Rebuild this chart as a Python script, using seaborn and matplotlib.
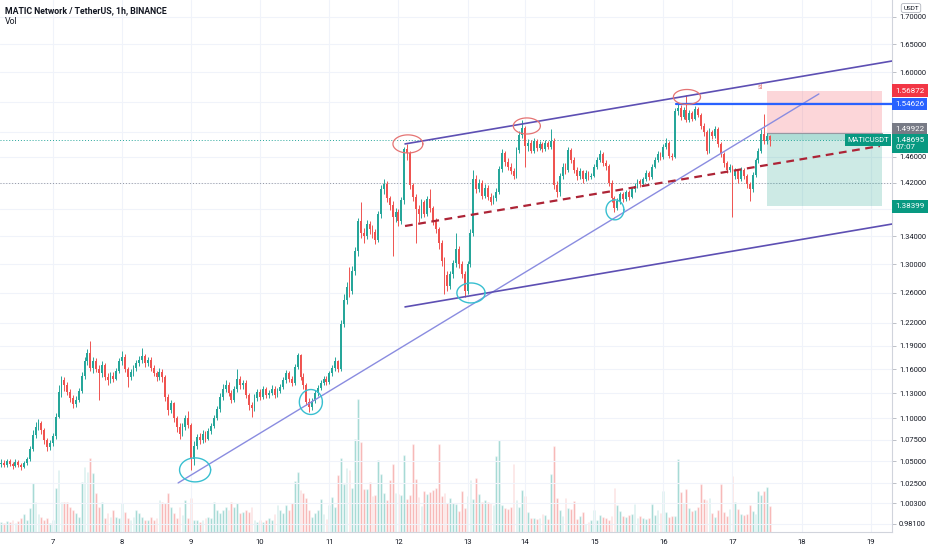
import numpy as np
import pandas as pd
import matplotlib
matplotlib.use("Agg")
import matplotlib.pyplot as plt
import matplotlib.transforms as mtransforms
from matplotlib.ticker import FixedLocator, FuncFormatter, NullLocator
import seaborn as sns

# MATICUSDT 1h candles (Binance)
first_open = 1.047
closes = [
    1.048, 1.046, 1.050, 1.047, 1.045, 1.049, 1.046, 1.044, 1.048, 1.052,
    1.064, 1.080, 1.090, 1.094, 1.086, 1.074, 1.066, 1.071, 1.079, 1.102,
    1.132, 1.146, 1.140, 1.132, 1.125, 1.117, 1.122, 1.133, 1.152, 1.170,
    1.181, 1.162, 1.171, 1.160, 1.155, 1.165, 1.150, 1.146, 1.152, 1.148,
    1.158, 1.170, 1.176, 1.160, 1.150, 1.156, 1.162, 1.168, 1.172, 1.177,
    1.168, 1.172, 1.162, 1.155, 1.150, 1.157, 1.150, 1.126, 1.110, 1.118,
    1.100, 1.090, 1.082, 1.090, 1.100, 1.092, 1.053, 1.068, 1.078, 1.074,
    1.082, 1.076, 1.085, 1.091, 1.100, 1.111, 1.126, 1.136, 1.141, 1.131,
    1.122, 1.135, 1.148, 1.140, 1.143, 1.128, 1.116, 1.112, 1.125, 1.132,
    1.126, 1.135, 1.128, 1.131, 1.136, 1.128, 1.133, 1.138, 1.146, 1.155,
    1.148, 1.143, 1.163, 1.178, 1.150, 1.140, 1.120, 1.113, 1.121, 1.130,
    1.137, 1.143, 1.148, 1.144, 1.155, 1.162, 1.170, 1.160, 1.218, 1.250,
    1.268, 1.262, 1.290, 1.318, 1.362, 1.345, 1.340, 1.358, 1.350, 1.346,
    1.335, 1.372, 1.410, 1.418, 1.396, 1.386, 1.368, 1.376, 1.362, 1.393,
    1.472, 1.466, 1.416, 1.398, 1.380, 1.372, 1.390, 1.373, 1.395, 1.381,
    1.362, 1.350, 1.330, 1.305, 1.285, 1.270, 1.286, 1.301, 1.322, 1.300,
    1.286, 1.263, 1.300, 1.345, 1.425, 1.410, 1.420, 1.400, 1.412, 1.398,
    1.391, 1.396, 1.406, 1.441, 1.466, 1.452, 1.445, 1.438, 1.430, 1.471,
    1.496, 1.506, 1.478, 1.483, 1.470, 1.486, 1.475, 1.481, 1.472, 1.483,
    1.476, 1.486, 1.416, 1.405, 1.430, 1.445, 1.440, 1.471, 1.455, 1.440,
    1.430, 1.438, 1.425, 1.435, 1.428, 1.431, 1.445, 1.456, 1.465, 1.450,
    1.446, 1.420, 1.396, 1.381, 1.392, 1.402, 1.395, 1.405, 1.398, 1.410,
    1.415, 1.422, 1.418, 1.425, 1.435, 1.428, 1.445, 1.456, 1.465, 1.460,
    1.476, 1.482, 1.462, 1.460, 1.535, 1.540, 1.525, 1.536, 1.520, 1.531,
    1.522, 1.538, 1.528, 1.510, 1.500, 1.470, 1.500, 1.494, 1.505, 1.480,
    1.465, 1.450, 1.440, 1.445, 1.430, 1.438, 1.425, 1.440, 1.430, 1.418,
    1.410, 1.432, 1.455, 1.470, 1.497, 1.485, 1.493, 1.48695,
]
highs = [
    1.052, 1.051, 1.053, 1.052, 1.049, 1.052, 1.051, 1.048, 1.050, 1.055,
    1.068, 1.086, 1.096, 1.099, 1.097, 1.088, 1.077, 1.075, 1.083, 1.106,
    1.140, 1.152, 1.150, 1.144, 1.136, 1.128, 1.127, 1.137, 1.157, 1.176,
    1.186, 1.196, 1.176, 1.174, 1.166, 1.170, 1.168, 1.155, 1.157, 1.156,
    1.162, 1.174, 1.183, 1.179, 1.163, 1.160, 1.166, 1.172, 1.177, 1.187,
    1.180, 1.176, 1.175, 1.165, 1.158, 1.161, 1.160, 1.153, 1.129, 1.122,
    1.120, 1.103, 1.094, 1.094, 1.104, 1.109, 1.095, 1.073, 1.082, 1.083,
    1.086, 1.085, 1.089, 1.095, 1.104, 1.115, 1.130, 1.142, 1.146, 1.144,
    1.134, 1.139, 1.160, 1.152, 1.147, 1.146, 1.131, 1.120, 1.129, 1.136,
    1.135, 1.139, 1.138, 1.134, 1.140, 1.139, 1.137, 1.142, 1.150, 1.159,
    1.158, 1.152, 1.167, 1.181, 1.180, 1.155, 1.143, 1.124, 1.125, 1.134,
    1.141, 1.147, 1.152, 1.151, 1.158, 1.166, 1.175, 1.172, 1.224, 1.258,
    1.275, 1.296, 1.297, 1.324, 1.366, 1.390, 1.352, 1.364, 1.362, 1.356,
    1.350, 1.377, 1.416, 1.426, 1.422, 1.400, 1.392, 1.382, 1.380, 1.398,
    1.476, 1.481, 1.470, 1.420, 1.402, 1.386, 1.395, 1.394, 1.400, 1.410,
    1.385, 1.366, 1.354, 1.334, 1.310, 1.290, 1.291, 1.306, 1.345, 1.326,
    1.305, 1.290, 1.305, 1.350, 1.440, 1.432, 1.426, 1.424, 1.418, 1.416,
    1.404, 1.401, 1.411, 1.446, 1.472, 1.470, 1.458, 1.450, 1.442, 1.476,
    1.501, 1.520, 1.510, 1.488, 1.487, 1.490, 1.489, 1.485, 1.484, 1.487,
    1.486, 1.505, 1.490, 1.422, 1.435, 1.450, 1.450, 1.476, 1.474, 1.460,
    1.445, 1.442, 1.440, 1.439, 1.438, 1.435, 1.449, 1.460, 1.471, 1.468,
    1.455, 1.449, 1.424, 1.400, 1.396, 1.406, 1.405, 1.409, 1.408, 1.414,
    1.420, 1.426, 1.425, 1.429, 1.439, 1.438, 1.449, 1.460, 1.470, 1.468,
    1.480, 1.490, 1.485, 1.466, 1.540, 1.546, 1.545, 1.541, 1.561, 1.537,
    1.535, 1.543, 1.541, 1.531, 1.514, 1.503, 1.506, 1.504, 1.510, 1.508,
    1.484, 1.468, 1.454, 1.449, 1.448, 1.442, 1.440, 1.444, 1.443, 1.433,
    1.421, 1.436, 1.459, 1.475, 1.505, 1.530, 1.498, 1.496,
]
lows = [
    1.044, 1.043, 1.044, 1.045, 1.041, 1.043, 1.044, 1.040, 1.042, 1.046,
    1.050, 1.062, 1.077, 1.086, 1.082, 1.070, 1.062, 1.063, 1.068, 1.076,
    1.100, 1.126, 1.133, 1.128, 1.120, 1.112, 1.113, 1.119, 1.130, 1.148,
    1.165, 1.158, 1.155, 1.156, 1.122, 1.150, 1.146, 1.140, 1.143, 1.144,
    1.146, 1.155, 1.166, 1.156, 1.138, 1.146, 1.152, 1.158, 1.164, 1.168,
    1.163, 1.164, 1.158, 1.151, 1.145, 1.146, 1.144, 1.121, 1.104, 1.106,
    1.096, 1.084, 1.076, 1.079, 1.086, 1.088, 1.040, 1.046, 1.064, 1.070,
    1.071, 1.072, 1.074, 1.082, 1.088, 1.098, 1.108, 1.122, 1.132, 1.127,
    1.118, 1.119, 1.132, 1.136, 1.135, 1.124, 1.110, 1.101, 1.109, 1.121,
    1.122, 1.123, 1.125, 1.124, 1.128, 1.125, 1.126, 1.130, 1.135, 1.143,
    1.144, 1.139, 1.140, 1.160, 1.146, 1.135, 1.116, 1.108, 1.110, 1.118,
    1.127, 1.134, 1.140, 1.140, 1.142, 1.152, 1.158, 1.156, 1.158, 1.214,
    1.245, 1.255, 1.258, 1.285, 1.312, 1.338, 1.330, 1.336, 1.343, 1.338,
    1.328, 1.332, 1.366, 1.402, 1.390, 1.378, 1.312, 1.360, 1.355, 1.358,
    1.388, 1.455, 1.410, 1.392, 1.330, 1.360, 1.366, 1.368, 1.370, 1.376,
    1.356, 1.344, 1.322, 1.298, 1.258, 1.262, 1.265, 1.280, 1.296, 1.295,
    1.280, 1.254, 1.258, 1.296, 1.340, 1.404, 1.405, 1.395, 1.396, 1.393,
    1.386, 1.388, 1.392, 1.402, 1.436, 1.446, 1.440, 1.433, 1.425, 1.427,
    1.466, 1.490, 1.445, 1.470, 1.466, 1.467, 1.470, 1.471, 1.468, 1.469,
    1.472, 1.472, 1.410, 1.398, 1.400, 1.426, 1.434, 1.436, 1.450, 1.435,
    1.424, 1.426, 1.420, 1.422, 1.424, 1.425, 1.428, 1.441, 1.452, 1.446,
    1.440, 1.415, 1.390, 1.375, 1.378, 1.388, 1.391, 1.392, 1.394, 1.396,
    1.406, 1.412, 1.414, 1.415, 1.422, 1.424, 1.426, 1.442, 1.452, 1.455,
    1.457, 1.472, 1.458, 1.455, 1.458, 1.528, 1.520, 1.521, 1.516, 1.517,
    1.518, 1.520, 1.524, 1.505, 1.494, 1.464, 1.466, 1.489, 1.490, 1.476,
    1.460, 1.445, 1.435, 1.436, 1.368, 1.425, 1.420, 1.422, 1.425, 1.412,
    1.392, 1.406, 1.428, 1.451, 1.466, 1.480, 1.480, 1.478,
]
# volume, millions MATIC
volumes = [
    5.0, 4.5, 5.5, 5.0, 6.0, 4.5, 5.5, 7.0, 9.0, 6.0,
    12.0, 24.5, 15.0, 9.0, 7.5, 6.0, 7.0, 4.5, 6.0, 22.0,
    31.0, 15.0, 15.0, 15.0, 12.5, 11.0, 9.5, 7.5, 25.0, 32.5,
    30.0, 37.0, 29.5, 19.5, 12.5, 15.0, 7.0, 9.5, 7.5, 11.0,
    7.5, 7.0, 14.5, 10.0, 7.0, 6.0, 7.5, 11.0, 9.5, 7.5,
    6.0, 6.0, 7.5, 6.0, 7.0, 16.0, 15.0, 14.5, 19.5, 12.5,
    9.5, 7.0, 12.5, 8.5, 16.0, 7.0, 17.0, 6.0, 6.0, 5.0,
    6.0, 7.0, 7.5, 7.0, 15.0, 11.0, 9.5, 11.0, 12.5, 11.0,
    15.0, 12.5, 14.5, 9.5, 10.0, 11.0, 10.0, 12.5, 6.0, 5.0,
    6.0, 5.0, 6.0, 7.0, 6.0, 9.0, 13.5, 11.0, 9.5, 13.5,
    11.0, 14.5, 25.5, 30.0, 21.0, 19.5, 17.0, 11.0, 7.5, 9.5,
    11.0, 16.5, 9.0, 6.5, 13.5, 17.5, 12.5, 28.5, 37.0, 24.0,
    32.0, 31.0, 22.0, 46.5, 66.5, 45.0, 21.5, 21.5, 25.0, 18.0,
    18.5, 36.0, 29.0, 19.5, 16.0, 26.0, 34.0, 19.5, 19.0, 18.5,
    38.5, 16.5, 18.5, 44.0, 26.5, 17.5, 13.0, 20.5, 19.0, 20.0,
    21.0, 22.0, 44.0, 18.0, 19.5, 14.5, 17.0, 14.5, 14.0, 10.5,
    20.5, 12.0, 18.0, 26.0, 16.5, 27.0, 19.0, 15.0, 16.0, 15.0,
    14.5, 13.5, 38.0, 46.0, 13.5, 12.0, 11.5, 12.5, 34.0, 16.0,
    12.5, 21.0, 18.0, 10.0, 7.0, 7.0, 6.5, 7.0, 9.0, 8.5,
    6.5, 29.0, 43.0, 17.0, 11.0, 8.0, 17.0, 12.0, 11.5, 15.5,
    6.5, 8.0, 10.0, 4.0, 5.0, 6.0, 11.0, 6.0, 8.5, 7.5,
    7.0, 6.0, 8.0, 22.0, 13.5, 10.5, 8.0, 7.5, 8.5, 9.0,
    14.0, 7.0, 8.0, 7.0, 6.5, 7.0, 14.0, 8.5, 11.0, 9.5,
    20.5, 10.0, 7.5, 8.0, 8.0, 36.5, 20.0, 14.5, 21.5, 12.0,
    10.5, 11.0, 12.5, 24.0, 16.5, 16.0, 17.0, 9.5, 7.5, 11.0,
    24.0, 10.0, 8.0, 11.5, 28.0, 15.0, 11.5, 9.0, 8.5, 9.0,
    13.5, 10.5, 9.0, 20.5, 18.5, 20.5, 22.5, 13.0,
]

day_labels = ["7", "8", "9", "10", "11", "12", "13", "14", "15", "16", "17", "18", "19"]
day_bars = [18, 42, 66, 90, 114, 138, 162, 182, 206, 230, 254, 278, 302]
price_ticks = [0.981, 1.003, 1.025, 1.05, 1.075, 1.10, 1.13, 1.16, 1.19, 1.22, 1.26,
               1.30, 1.34, 1.38, 1.42, 1.46, 1.50, 1.55, 1.60, 1.65, 1.70]
covered_ticks = [1.38, 1.50, 1.55]  # hidden behind the price tags

# drawings on the chart: (bar, price) anchors
trend_rise = [(61.5, 1.0256), (284.0, 1.5632)]
channel_top = [(140.3, 1.4808), (309.4, 1.6200)]
channel_bottom = [(140.3, 1.2411), (309.4, 1.3577)]
mid_dashed = [(140.3, 1.3548), (305.2, 1.4775)]
resistance, resistance_start = 1.54626, 234.4
stop_price, entry_price, target_price = 1.56872, 1.49922, 1.38399
last_price = 1.48695
dotted_level = 1.42
box_left, box_right = 266.0, 305.9
# (bar, price, half width in bars, half height in log units)
red_rings = [(141.3, 1.4808, 5.2, 0.0098), (182.6, 1.5099, 4.7, 0.0087),
             (238.2, 1.5581, 4.7, 0.0081)]
cyan_rings = [(67.4, 1.0402, 5.4, 0.0130), (107.6, 1.1196, 4.0, 0.0135),
              (163.2, 1.2600, 4.9, 0.0108), (213.2, 1.3787, 3.1, 0.0108)]

UP = "#26a69a"
DOWN = "#ef5350"
TXT = "#131722"

sns.set_theme(style="white")
plt.rcParams["font.family"] = ["Roboto", "DejaVu Sans"]

df = pd.DataFrame({"bar": np.arange(len(closes)), "close": closes,
                   "high": highs, "low": lows, "volume": volumes})
df["open"] = [first_open] + closes[:-1]
df["dir"] = np.where(df["close"] >= df["open"], "up", "down")
colors = np.where(df["dir"] == "up", UP, DOWN)

XMIN, XMAX = -0.35, 309.4
YMIN, YMAX = 0.9725, 1.7307

fig = plt.figure(figsize=(9.32, 5.5), dpi=100)
rect = [0, 18 / 550, 892 / 932, 532 / 550]

# volume pane underneath
ax_v = fig.add_axes(rect)
sns.barplot(data=df, x="bar", y="volume", hue="dir", palette={"up": UP, "down": DOWN},
            native_scale=True, dodge=False, width=0.62, saturation=1, alpha=0.5,
            errorbar=None, legend=False, ax=ax_v)
ax_v.set_xlim(XMIN, XMAX)
ax_v.set_ylim(0, df["volume"].max() * 4.0)
ax_v.axis("off")

ax = fig.add_axes(rect)
ax.patch.set_visible(False)
ax.set_yscale("log")
ax.set_xlim(XMIN, XMAX)
ax.set_ylim(YMIN, YMAX)

# grid
for b in day_bars:
    ax.axvline(b, color="#f0f3fa", lw=0.8, zorder=0)
for p in price_ticks:
    ax.axhline(p, color="#f0f3fa", lw=0.8, zorder=0)

# candles
body_lo = np.minimum(df["open"], df["close"])
body_h = np.maximum(np.abs(df["close"] - df["open"]), 0.0008)
ax.vlines(df["bar"], df["low"], df["high"], colors=colors, lw=0.7, zorder=2)
ax.bar(df["bar"], body_h, bottom=body_lo, width=0.64, color=colors, lw=0, zorder=2)

# price lines
ax.axhline(last_price, color=UP, lw=0.7, ls=(0, (1, 2)), zorder=1)
ax.axhline(dotted_level, color="#9598a1", lw=0.7, ls=(0, (1, 2)), zorder=1)

# trend lines
(x0, y0), (x1, y1) = trend_rise
ax.plot([x0, x1], [y0, y1], color="#8a8ce0", lw=1.0, zorder=3)
for (x0, y0), (x1, y1) in [channel_top, channel_bottom]:
    ax.plot([x0, x1], [y0, y1], color="#5d4fb3", lw=1.2, zorder=3)
(x0, y0), (x1, y1) = mid_dashed
ax.plot([x0, x1], [y0, y1], color="#ad2436", lw=1.6, ls=(0, (3.5, 2.5)), zorder=3)
ax.plot([resistance_start, XMAX], [resistance, resistance], color="#2962ff", lw=1.6, zorder=3)

# rings
t = np.linspace(0, 2 * np.pi, 120)
for cx, cy, a, b in red_rings:
    ax.plot(cx + a * np.cos(t), cy * np.exp(b * np.sin(t)), color="#e57373", lw=0.9, zorder=4)
for cx, cy, a, b in cyan_rings:
    ax.plot(cx + a * np.cos(t), cy * np.exp(b * np.sin(t)), color="#38bfd0", lw=1.0, zorder=4)

# short position tool
ax.fill_between([box_left, box_right], entry_price, stop_price, color="#f23645", alpha=0.2, lw=0, zorder=1)
ax.fill_between([box_left, box_right], target_price, entry_price, color="#089981", alpha=0.2, lw=0, zorder=1)
ax.fill_between([box_left, box_right], last_price, entry_price, color="#089981", alpha=0.15, lw=0, zorder=1)
ax.plot([box_left, box_right], [entry_price, entry_price], color="#9598a1", lw=0.8, zorder=1)
ax.text(box_left - 1.5, stop_price, "sl", color="#e57373", fontsize=5, ha="right", va="bottom")

# axes cosmetics
for s in ["top", "left"]:
    ax.spines[s].set_visible(False)
for s in ["right", "bottom"]:
    ax.spines[s].set_color("#d1d4dc")
    ax.spines[s].set_linewidth(0.8)
ax.yaxis.tick_right()
ax.yaxis.set_major_locator(FixedLocator(price_ticks))
ax.yaxis.set_minor_locator(NullLocator())
ax.yaxis.set_major_formatter(FuncFormatter(
    lambda v, _: "" if any(abs(v - c) < 1e-6 for c in covered_ticks) else f"{v:.5f}"))
ax.tick_params(axis="y", length=3, width=0.6, color="#b2b5be", labelsize=5.4, labelcolor=TXT, pad=2)
ax.set_xticks(day_bars)
ax.set_xticklabels(day_labels)
ax.tick_params(axis="x", length=0, labelsize=5.6, labelcolor=TXT, pad=5)

# right-hand price tags
tr = mtransforms.blended_transform_factory(ax.transAxes, ax.transData)
tag = dict(boxstyle="square,pad=0.4", ec="none")
for price, col, dy in [(stop_price, "#f23645", 0), (resistance, "#2962ff", 0),
                       (entry_price, "#787b86", 2.6), (target_price, "#089981", 0)]:
    ax.annotate(f"{price:.5f}", xy=(1, price), xycoords=tr, xytext=(2.2, dy), textcoords="offset points",
                ha="left", va="center", fontsize=5.8, color="white", zorder=6, annotation_clip=False,
                bbox=dict(tag, fc=col))
ax.annotate(f"{last_price:.5f}\n07:07", xy=(1, last_price), xycoords=tr, xytext=(2.2, 2.0),
            textcoords="offset points", ha="left", va="top", fontsize=5.8, color="white",
            linespacing=1.1, zorder=7, annotation_clip=False, bbox=dict(tag, fc="#089981"))
ax.annotate("MATICUSDT", xy=(1, last_price), xycoords=tr, xytext=(-2.0, 0), textcoords="offset points",
            ha="right", va="center", fontsize=5.4, color="white", zorder=7, annotation_clip=False,
            bbox=dict(boxstyle="square,pad=0.3", fc="#089981", ec="none"))

fig.text(911 / 932, 1 - 8 / 550, "USDT", fontsize=4.6, color=TXT, ha="center", va="center",
         bbox=dict(boxstyle="round,pad=0.3,rounding_size=0.3", fc="white", ec="#b2b5be", lw=0.6))
fig.text(5 / 932, 1 - 11 / 550, "MATIC Network / TetherUS, 1h, BINANCE", fontsize=6.3,
         color=TXT, ha="left", va="center", fontweight="bold")
fig.text(5 / 932, 1 - 22 / 550, "Vol", fontsize=6.3, color=TXT, ha="left", va="center")

fig.savefig("out.png", dpi=100)
